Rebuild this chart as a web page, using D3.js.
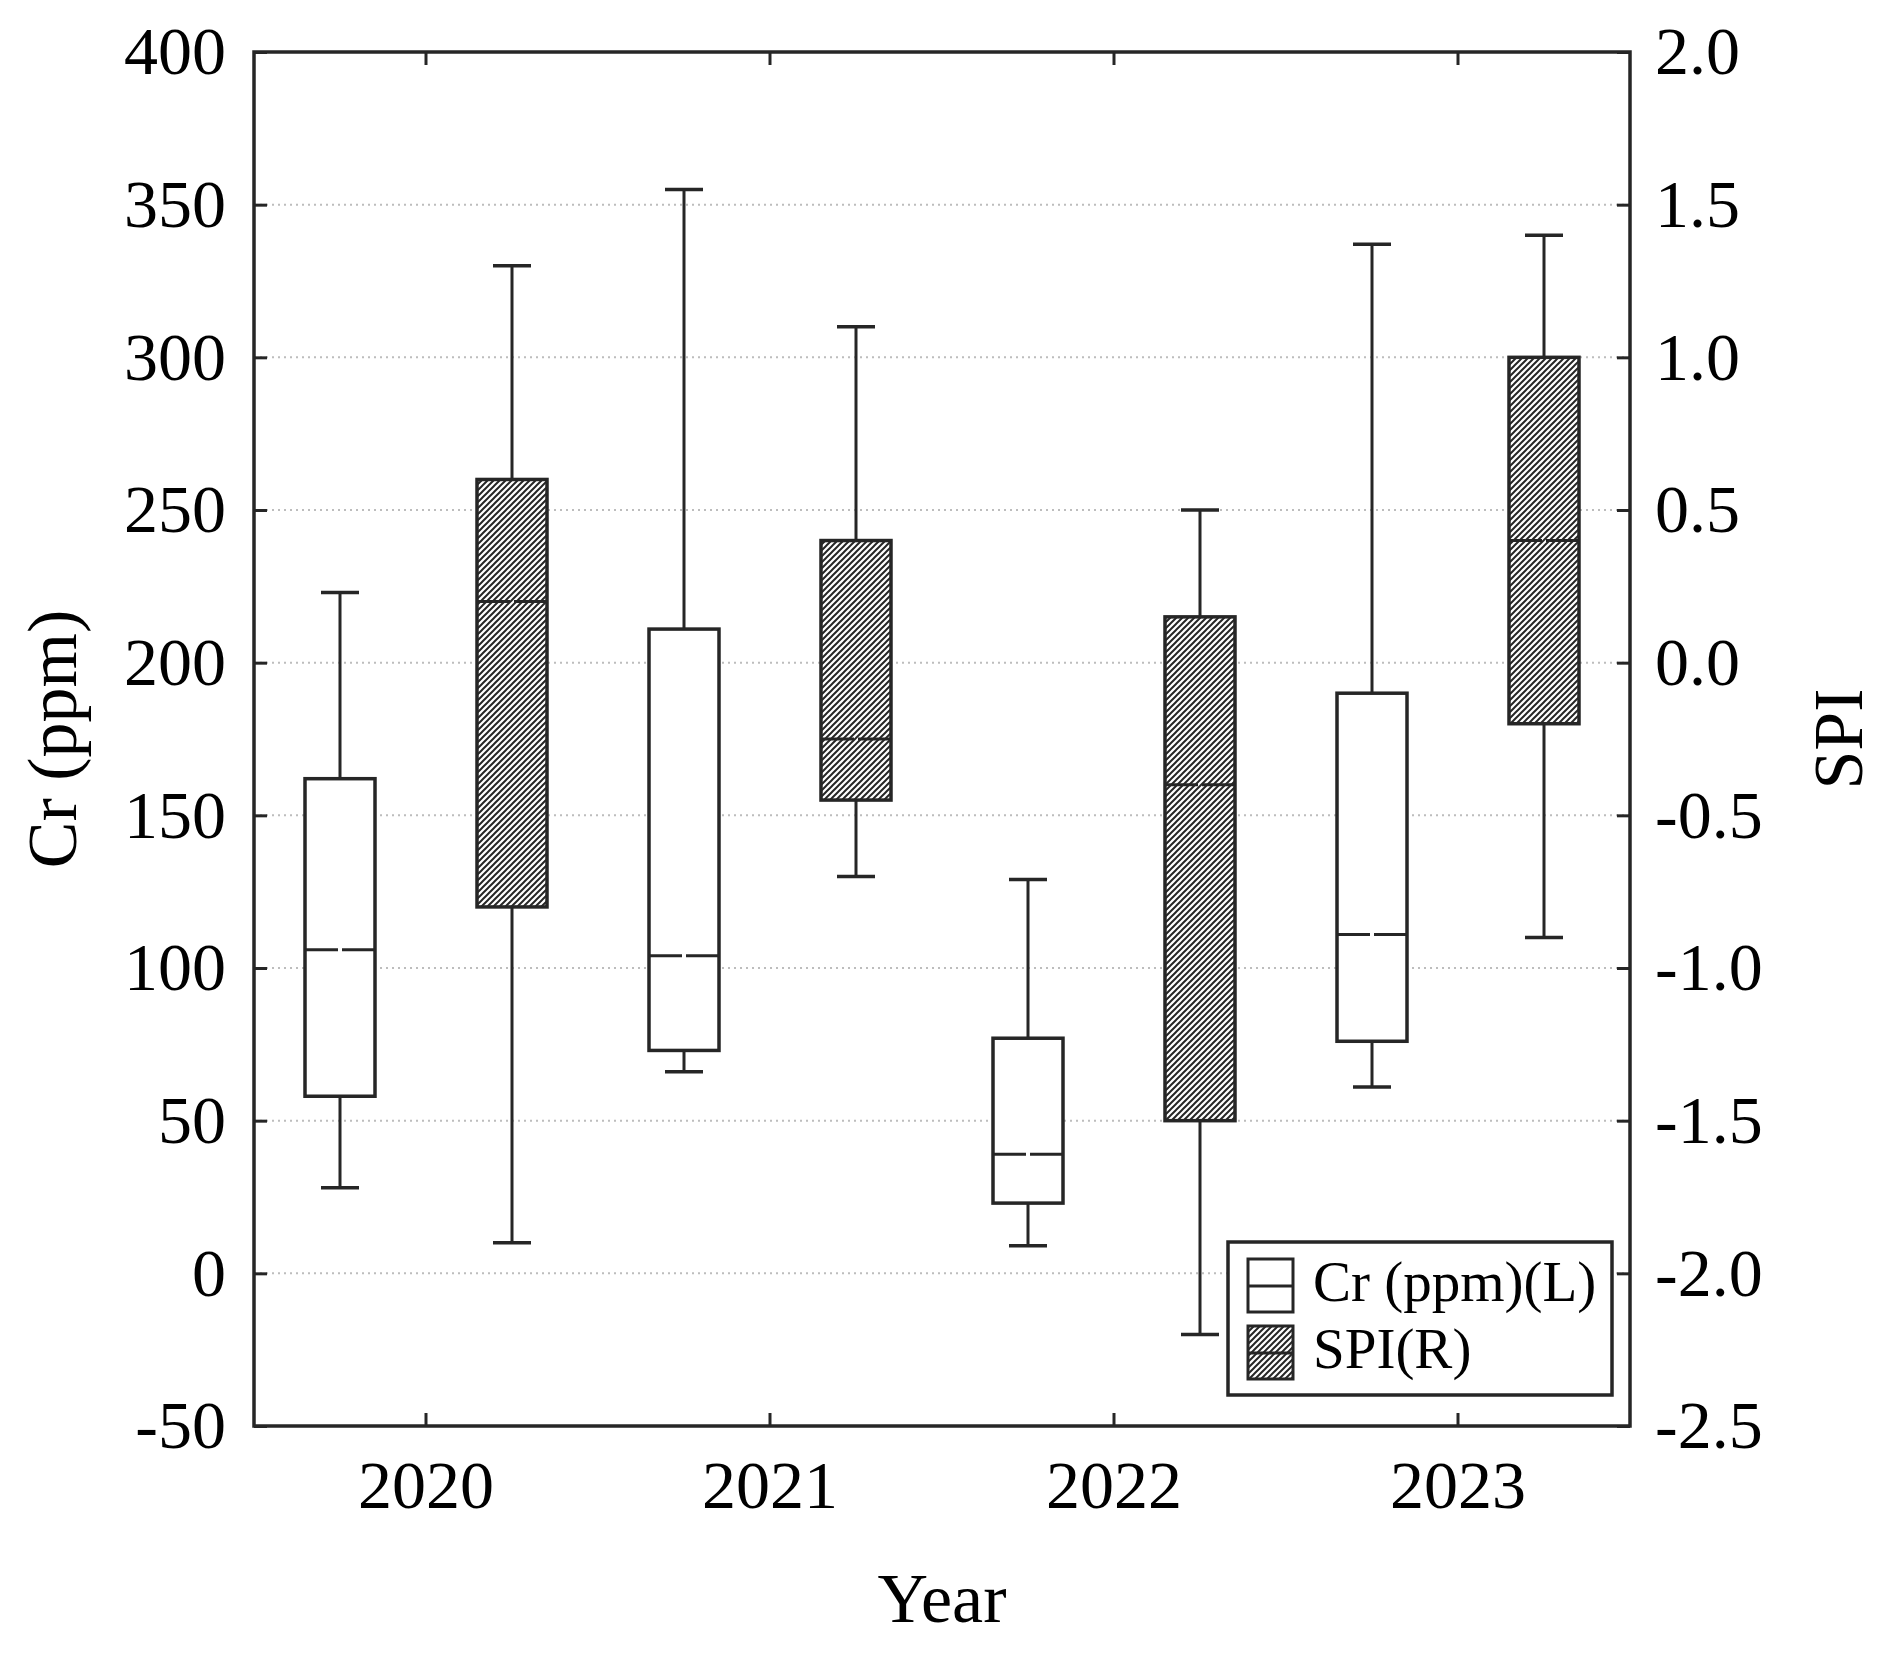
<!DOCTYPE html>
<html>
<head>
<meta charset="utf-8">
<script src="https://cdn.jsdelivr.net/npm/d3@7"></script>
<style>
  body { margin: 0; background: #fff; }
  text { font-family: "Liberation Serif", "Times New Roman", serif; fill: #000; }
</style>
</head>
<body>
<div class="chart"></div>
<script>
// values
const years = ['2020', '2021', '2022', '2023'];
const crMin = [28, 66, 9, 61];
const crQ1 = [58, 73, 23, 76];
const crMed = [106, 104, 39, 111];
const crQ3 = [162, 211, 77, 190];
const crMax = [223, 355, 129, 337];
const spiMin = [-1.9, -0.7, -2.2, -0.9];
const spiQ1 = [-0.8, -0.45, -1.5, -0.2];
const spiMed = [0.2, -0.25, -0.4, 0.4];
const spiQ3 = [0.6, 0.4, 0.15, 1.0];
const spiMax = [1.3, 1.1, 0.5, 1.4];
const leftTicks = [-50, 0, 50, 100, 150, 200, 250, 300, 350, 400];
const rightTicks = [-2.5, -2.0, -1.5, -1.0, -0.5, 0.0, 0.5, 1.0, 1.5, 2.0];
const gridTicks = [0, 50, 100, 150, 200, 250, 300, 350];

const fullWidth = 1886;
const fullHeight = 1654;
const plot = { left: 254, right: 1630, top: 52, bottom: 1426 };
const ink = '#262626';

const svg = d3.select('.chart')
    .append('svg')
        .attr('width', fullWidth)
        .attr('height', fullHeight);

// hatch for the SPI boxes
svg.append('defs')
    .append('pattern')
        .attr('id', 'hatch')
        .attr('patternUnits', 'userSpaceOnUse')
        .attr('width', 6)
        .attr('height', 6)
    .call(p => p.append('rect').attr('width', 6).attr('height', 6).attr('fill', '#fff'))
    .append('path')
        .attr('d', 'M-1,1 l2,-2 M0,6 l6,-6 M5,7 l2,-2')
        .attr('stroke', ink)
        .attr('stroke-width', 2);

const xScale = d3.scaleBand()
    .domain(years)
    .range([plot.left, plot.right]);

const sub = d3.scaleBand()
    .domain(['cr', 'spi'])
    .range([-xScale.bandwidth() / 2, xScale.bandwidth() / 2]);

const yLeft = d3.scaleLinear()
    .domain([-50, 400])
    .range([plot.bottom, plot.top]);

const yRight = d3.scaleLinear()
    .domain([-2.5, 2.0])
    .range([plot.bottom, plot.top]);

// dotted grid
svg.append('g')
    .selectAll('line')
    .data(gridTicks)
    .enter()
    .append('line')
        .attr('x1', plot.left)
        .attr('x2', plot.right)
        .attr('y1', d => yLeft(d))
        .attr('y2', d => yLeft(d))
        .attr('stroke', '#bdbdbd')
        .attr('stroke-width', 2)
        .attr('stroke-dasharray', '2,4');

// axes, ticks pointing inward
const tickLen = -13;
const fontSize = 68;

function styleAxis(g) {
    g.select('.domain').remove();
    g.selectAll('.tick line').attr('stroke', ink).attr('stroke-width', 3);
    g.selectAll('.tick text').attr('font-size', fontSize).attr('fill', '#000')
        .attr('font-family', '"Liberation Serif", serif');
}

svg.append('g')
    .attr('transform', `translate(${plot.left},0)`)
    .call(d3.axisLeft(yLeft).tickValues(leftTicks).tickSize(tickLen).tickPadding(28).tickFormat(d => String(d)))
    .call(styleAxis);

svg.append('g')
    .attr('transform', `translate(${plot.right},0)`)
    .call(d3.axisRight(yRight).tickValues(rightTicks).tickSize(tickLen).tickPadding(25).tickFormat(d => d.toFixed(1)))
    .call(styleAxis);

svg.append('g')
    .attr('transform', `translate(0,${plot.bottom})`)
    .call(d3.axisBottom(xScale).tickSize(tickLen).tickPadding(34))
    .call(styleAxis);

svg.append('g')
    .attr('transform', `translate(0,${plot.top})`)
    .call(d3.axisTop(xScale).tickSize(tickLen).tickFormat(''))
    .call(styleAxis);

// box plots
const boxW = 70;
const capW = 38;
const series = [
    { key: 'cr', y: yLeft, min: crMin, q1: crQ1, med: crMed, q3: crQ3, max: crMax, fill: '#fff' },
    { key: 'spi', y: yRight, min: spiMin, q1: spiQ1, med: spiMed, q3: spiQ3, max: spiMax, fill: 'url(#hatch)' }
];

series.forEach(s => {
    const g = svg.append('g');
    const boxes = g.selectAll('g')
        .data(years)
        .enter()
        .append('g')
            .attr('transform', d => `translate(${xScale(d) + xScale.bandwidth() / 2 + sub(s.key) + sub.bandwidth() / 2},0)`);

    // whiskers
    boxes.append('line')
        .attr('x1', 0).attr('x2', 0)
        .attr('y1', (d, i) => s.y(s.min[i]))
        .attr('y2', (d, i) => s.y(s.max[i]))
        .attr('stroke', ink).attr('stroke-width', 3);
    [s.min, s.max].forEach(arr => {
        boxes.append('line')
            .attr('x1', -capW / 2).attr('x2', capW / 2)
            .attr('y1', (d, i) => s.y(arr[i]))
            .attr('y2', (d, i) => s.y(arr[i]))
            .attr('stroke', ink).attr('stroke-width', 3.5);
    });

    boxes.append('rect')
        .attr('x', -boxW / 2)
        .attr('width', boxW)
        .attr('y', (d, i) => s.y(s.q3[i]))
        .attr('height', (d, i) => s.y(s.q1[i]) - s.y(s.q3[i]))
        .attr('fill', s.fill)
        .attr('stroke', ink)
        .attr('stroke-width', 3.5);

    // median, with the small gap in the middle
    [[-boxW / 2, -2], [2, boxW / 2]].forEach(([a, b]) => {
        boxes.append('line')
            .attr('x1', a).attr('x2', b)
            .attr('y1', (d, i) => s.y(s.med[i]))
            .attr('y2', (d, i) => s.y(s.med[i]))
            .attr('stroke', ink).attr('stroke-width', 3);
    });
});

// frame
svg.append('rect')
    .attr('x', plot.left)
    .attr('y', plot.top)
    .attr('width', plot.right - plot.left)
    .attr('height', plot.bottom - plot.top)
    .attr('fill', 'none')
    .attr('stroke', ink)
    .attr('stroke-width', 3.5);

// axis titles
svg.append('text')
    .attr('transform', `translate(76,${(plot.top + plot.bottom) / 2}) rotate(-90)`)
    .attr('text-anchor', 'middle')
    .attr('font-size', 70)
    .text('Cr (ppm)');

svg.append('text')
    .attr('transform', `translate(1862,${(plot.top + plot.bottom) / 2}) rotate(-90)`)
    .attr('text-anchor', 'middle')
    .attr('font-size', 70)
    .text('SPI');

svg.append('text')
    .attr('x', (plot.left + plot.right) / 2)
    .attr('y', 1622)
    .attr('text-anchor', 'middle')
    .attr('font-size', 70)
    .text('Year');

// legend
const legend = svg.append('g').attr('transform', 'translate(1228,1242)');
legend.append('rect')
    .attr('width', 384).attr('height', 153)
    .attr('fill', '#fff').attr('stroke', ink).attr('stroke-width', 3.5);

const legendItems = [
    { label: 'Cr (ppm)(L)', fill: '#fff' },
    { label: 'SPI(R)', fill: 'url(#hatch)' }
];
const item = legend.selectAll('g.item')
    .data(legendItems)
    .enter()
    .append('g')
        .attr('class', 'item')
        .attr('transform', (d, i) => `translate(20,${17 + i * 67})`);
item.append('rect')
    .attr('width', 45).attr('height', 53)
    .attr('fill', d => d.fill).attr('stroke', ink).attr('stroke-width', 3);
item.append('line')
    .attr('x1', 0).attr('x2', 45).attr('y1', 27).attr('y2', 27)
    .attr('stroke', ink).attr('stroke-width', 3);
item.append('text')
    .attr('x', 65).attr('y', 42)
    .attr('font-size', 57)
    .text(d => d.label);
</script>
</body>
</html>
